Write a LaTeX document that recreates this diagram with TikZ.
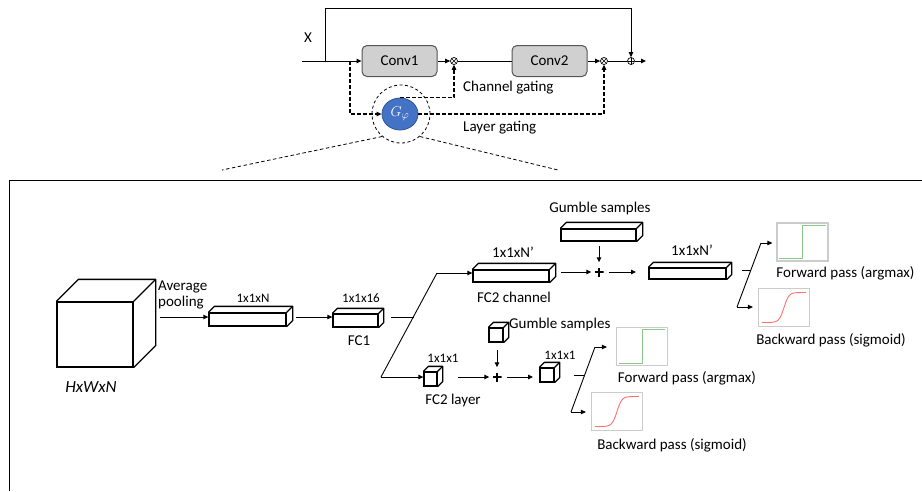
\documentclass[tikz,border=0pt]{standalone}
\usepackage{fontspec}
\setmainfont{Carlito}
\usetikzlibrary{arrows.meta,calc,shapes.geometric}
\definecolor{convfill}{HTML}{D0D0D0}
\definecolor{convdraw}{HTML}{555555}
\definecolor{gblue}{HTML}{4472C4}
\definecolor{gblued}{HTML}{2F5597}
\definecolor{plotframe}{HTML}{CCCCCC}
\definecolor{stepgreen}{HTML}{8CC88C}
\definecolor{sigred}{HTML}{FF7070}
\newcommand\prism[6]{%
  \node[prismbox, minimum width=#4pt, minimum height=#5pt] (#1) at (#2,#3) {};
  \draw[prismline] (#1.north west) -- ++(#6pt,#6pt) -- ($(#1.north east)+(#6pt,#6pt)$) -- ($(#1.south east)+(#6pt,#6pt)$) -- (#1.south east);
  \draw[prismline] (#1.north east) -- ++(#6pt,#6pt);
}
\newcommand\stepplot[3]{%
  \node[plotbox] (#1) at (#2,#3) {};
  \draw[stepgreen, line width=0.9pt] ($(#1.south west)+(3pt,3pt)$) -- ($(#1.south)+(0,3pt)$) -- ($(#1.north)+(0,-3pt)$) -- ($(#1.north east)+(-3pt,-3pt)$);
}
\newcommand\sigplot[3]{%
  \node[plotbox] (#1) at (#2,#3) {};
  \draw[sigred, line width=0.9pt] plot[domain=0:1, samples=60, smooth] ({#2-22+44*\x}, {#3+15-30/(1+exp(-18*(\x-0.5)))});
}
\begin{document}
\begin{tikzpicture}[x=1pt,y=-1pt,
  lbl/.style={font=\fontsize{15}{18}\selectfont, inner sep=0},
  small/.style={font=\fontsize{13}{15}\selectfont, inner sep=0},
  ln/.style={line width=0.9pt},
  arr/.style={ln, -{Triangle[length=5pt,width=4.5pt]}},
  dsh/.style={line width=1.1pt, dash pattern=on 3.5pt off 2.5pt},
  dsharr/.style={dsh, -{Triangle[length=5pt,width=4.5pt]}},
  conv/.style={draw=convdraw, fill=convfill, rounded corners=5pt, line width=1pt,
    font=\fontsize{15}{18}\selectfont, minimum width=75pt, minimum height=31pt, inner sep=0},
  opnode/.style={circle, draw, inner sep=0, minimum size=7pt, line width=0.7pt, fill=white},
  otimes/.style={opnode, path picture={\draw[line width=0.6pt] (path picture bounding box.north west) -- (path picture bounding box.south east) (path picture bounding box.north east) -- (path picture bounding box.south west);}},
  oplus/.style={opnode, path picture={\draw[line width=0.6pt] (path picture bounding box.north) -- (path picture bounding box.south) (path picture bounding box.west) -- (path picture bounding box.east);}},
  gnode/.style={ellipse, draw=gblued, fill=gblue, line width=0.8pt, minimum width=36pt, minimum height=32pt, inner sep=0, text=white, font=\fontsize{15}{17}\selectfont},
  prismbox/.style={draw, line width=1.3pt, inner sep=0, fill=white},
  prismline/.style={line width=1.3pt, line join=round},
  plusnode/.style={inner sep=0, minimum size=9pt, path picture={\draw[line width=2.4pt] (path picture bounding box.north) -- (path picture bounding box.south) (path picture bounding box.west) -- (path picture bounding box.east);}},
  plotbox/.style={draw=plotframe, line width=1.2pt, fill=white, minimum width=51pt, minimum height=38pt, inner sep=0}
]
\useasboundingbox (0,0) rectangle (922,491);

% ---------------- top block ----------------
\coordinate (in) at (302,61);
\coordinate (sk) at (325,61);
\coordinate (skt) at (325,8);
\coordinate (dd) at (350,61);
\coordinate (out) at (646,61);
\node[conv] (c1) at (399.5,61) {Conv1};
\node[conv] (c2) at (549.5,61) {Conv2};
\node[otimes] (ot1) at (454,61) {};
\node[otimes] (ot2) at (604,61) {};
\node[oplus] (op) at (631,61) {};
\node[lbl] (xl) at (308,38) {X};

\draw[ln] (in) -- (sk);
\draw[arr] (sk) -- (c1.west);
\draw[arr] (c1.east) -- (ot1.west);
\draw[ln] (ot1.east) -- (c2.west);
\draw[arr] (c2.east) -- (ot2.west);
\draw[ln] (ot2.east) -- (op.west);
\draw[arr] (op.east) -- (out);
\draw[arr] (sk) -- (skt) -| (op.north);

\node[gnode] (G) at (400,114) {$G_{\varphi}$};
\node[circle, draw, line width=0.8pt, dash pattern=on 3pt off 2.5pt, minimum size=58pt, inner sep=0] (zc) at (401,114) {};
\draw[dsharr] (dd) |- (G.west);
\draw[dsharr] (G.north) -- (G.north -| ot1) -- (ot1.south);
\draw[dsharr] (G.east) -| (ot2.south);
\node[lbl, anchor=west] (chg) at (463,88) {Channel gating};
\node[lbl, anchor=west] (lyg) at (463,128) {Layer gating};

\coordinate (zl) at (222,170);
\coordinate (zr) at (558,170);
\draw[line width=0.8pt, dash pattern=on 3.5pt off 2.5pt] (zc.-130) -- (zl);
\draw[line width=0.8pt, dash pattern=on 3.5pt off 2.5pt] (zc.-50) -- (zr);

% ---------------- frame ----------------
\draw[line width=1pt] (9,491) -- (9,180) -- (922,180);

% ---------------- bottom block ----------------
\prism{cube}{95}{334.5}{76}{65}{22}
\node[font=\fontsize{17}{20}\selectfont\itshape, inner sep=0] (hwn) at (91,387) {HxWxN};
\node[lbl, anchor=west, align=left] (avg) at (158,295) {Average\\[-2pt]pooling};

\prism{bar1}{247.5}{319.5}{77}{13}{6}
\node[small] (bar1l) at (253,298) {1x1xN};
\coordinate (ap) at (160,317);
\draw[arr] (ap) -- (ap -| bar1.west);

\prism{fc1}{355.5}{320.5}{45}{13}{5}
\node[small] (fc1t) at (361,298) {1x1x16};
\node[lbl] (fc1l) at (359,341) {FC1};
\coordinate (b1o) at (296,317);
\draw[arr] (b1o) -- (b1o -| fc1.west);

% split
\coordinate (f1o) at (391,317);
\coordinate (s1m) at (413.5,317);
\coordinate (s1b) at (381,377);
\coordinate (s1t) at (437,273);
\draw[ln] (f1o) -- (s1m);
\draw[ln] (s1b) -- (s1t);

% channel branch
\prism{fc2c}{511}{276}{76}{12}{6}
\node[lbl] (fc2ct) at (513,252) {1x1xN’};
\node[lbl] (fc2cl) at (514,297) {FC2 channel};
\draw[arr] (s1t) -- (s1t -| fc2c.west);

\prism{gbc}{598.5}{235}{75}{12}{6}
\node[lbl] (gbcl) at (600,208) {Gumble samples};
\node[plusnode] (p1) at (599,272) {};
\coordinate (p1i) at (561,272);
\coordinate (p1o) at (636,272);
\coordinate (g1a) at (599,246);
\draw[arr] (p1i) -- ($(p1.west)+(-3pt,0)$);
\draw[arr] (p1.east) ++(5pt,0) -- (p1o);
\draw[arr] (g1a) -- ($(p1.north)+(0,5pt)$);

\prism{outc}{687.5}{273.5}{77}{11}{5}
\node[lbl] (outct) at (692,250) {1x1xN’};

\coordinate (h1a) at (742,270);
\coordinate (h1b) at (751,270);
\coordinate (s2b) at (737,307);
\coordinate (s2t) at (761,243);
\draw[ln] (h1a) -- (h1b);
\draw[ln] (s2b) -- (s2t);
\stepplot{fw1}{802.5}{242}
\sigplot{bw1}{784}{307.5}
\draw[arr] (s2t) -- ($(s2t -| fw1.west)+(-4pt,0)$);
\draw[arr] (s2b) -- ($(s2b -| bw1.west)+(-5pt,0)$);
\node[lbl] (fw1l) at (845.5,273) {Forward pass (argmax)};
\node[lbl] (bw1l) at (831,340) {Backward pass (sigmoid)};

% layer branch
\prism{fc2l}{430.5}{379}{13}{14}{5}
\node[small] (fc2lt) at (443,358) {1x1x1};
\node[lbl] (fc2ll) at (453,400) {FC2 layer};
\draw[arr] (s1b) -- (s1b -| fc2l.west);

\prism{gbl}{496}{335}{14}{14}{5}
\node[lbl, anchor=west] (gbll) at (509,324) {Gumble samples};
\node[plusnode] (p2) at (497,377) {};
\coordinate (p2i) at (458,377);
\coordinate (p2o) at (533,377);
\coordinate (g2a) at (497,350);
\draw[arr] (p2i) -- ($(p2.west)+(-3pt,0)$);
\draw[arr] (p2.east) ++(5pt,0) -- (p2o);
\draw[arr] (g2a) -- ($(p2.north)+(0,5pt)$);

\prism{outl}{547}{375}{14}{14}{5}
\node[small] (outlt) at (560,355) {1x1x1};

\coordinate (h2a) at (574,375);
\coordinate (h2b) at (584.5,375);
\coordinate (s3b) at (571,412);
\coordinate (s3t) at (595,347);
\draw[ln] (h2a) -- (h2b);
\draw[ln] (s3b) -- (s3t);
\stepplot{fw2}{642}{346.5}
\sigplot{bw2}{617}{411.5}
\draw[arr] (s3t) -- ($(s3t -| fw2.west)+(-9pt,0)$);
\draw[arr] (s3b) -- ($(s3b -| bw2.west)+(-5pt,0)$);
\node[lbl] (fw2l) at (687,378) {Forward pass (argmax)};
\node[lbl] (bw2l) at (672,445) {Backward pass (sigmoid)};
\end{tikzpicture}
\end{document}
